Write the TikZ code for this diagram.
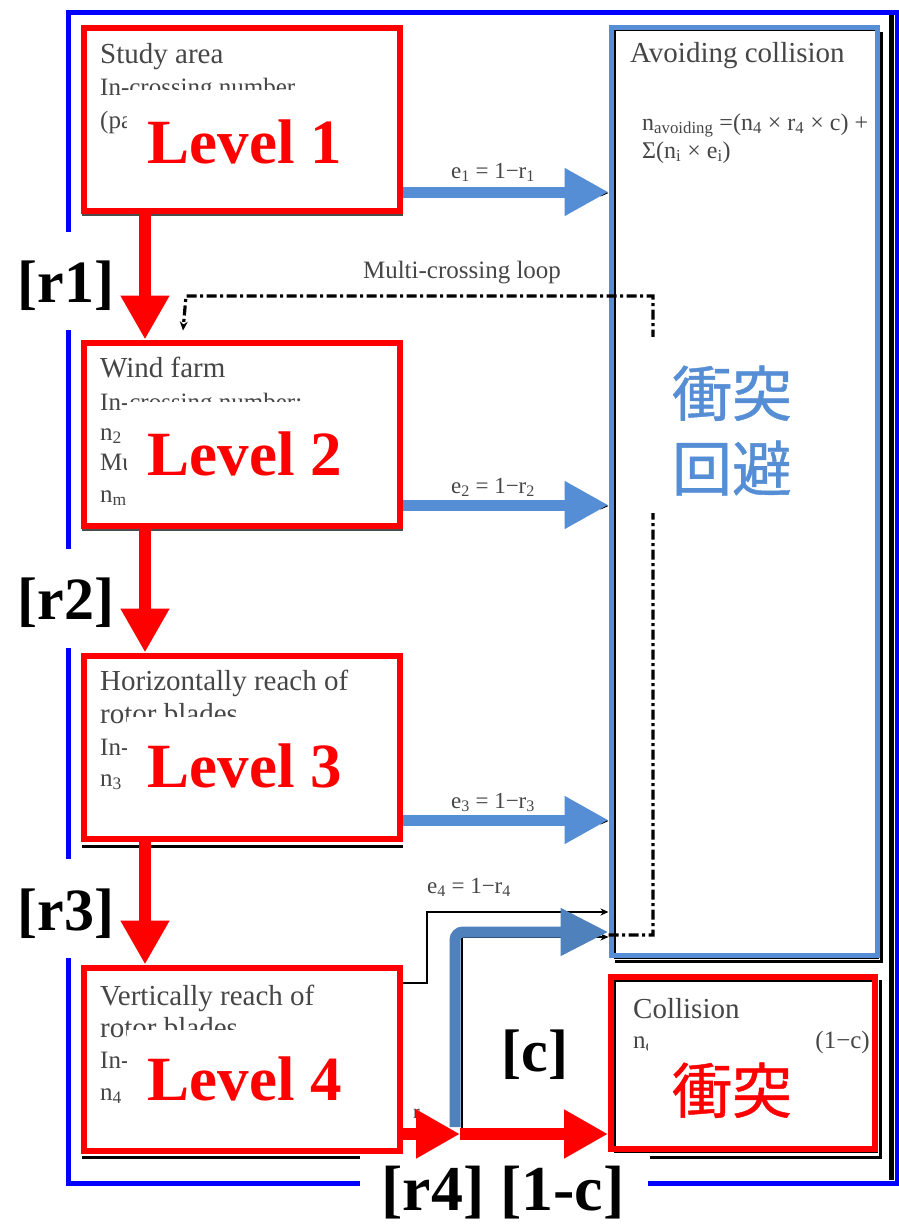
\documentclass[tikz,border=0pt]{standalone}
\usepackage{fontspec}
\setmainfont{Liberation Serif}
\newfontfamily\cjk{Noto Sans CJK JP}[FakeBold=0.7]
\usetikzlibrary{arrows.meta}
\definecolor{ared}{RGB}{255,0,0}
\definecolor{lblue}{RGB}{85,142,213}
\definecolor{dblue}{RGB}{79,129,189}
\definecolor{fblue}{RGB}{0,0,255}
\definecolor{gtext}{RGB}{70,70,70}
\newcommand\fsz[1]{\fontsize{#1}{#1}\selectfont}
\begin{document}
\begin{tikzpicture}[x=1pt,y=-1pt,
 levelbox/.style={draw=ared, line width=6pt, minimum width=316pt, minimum height=183pt, inner sep=0pt},
 leveltxt/.style={text=ared, font=\bfseries\fsz{63}, anchor=base, inner sep=0pt},
 rlab/.style={font=\bfseries\fsz{60}, inner sep=0pt},
 head/.style={font=\fsz{29}, text=gtext, anchor=base west, inner sep=0pt},
 det/.style={font=\fsz{25}, text=gtext, anchor=base west, inner sep=0pt},
 elab/.style={font=\fsz{23}, text=gtext, anchor=base, inner sep=0pt},
 cjkbig/.style={font=\cjk\fsz{60}, anchor=base, inner sep=0pt},
 redarrow/.style={draw=ared, line width=12pt, -{Triangle[length=44pt,width=46pt]}},
 bluearrow/.style={draw=lblue, line width=11pt, -{Triangle[length=44pt,width=45pt]}},
 thinarrow/.style={draw=black, line width=2pt, -{Stealth[length=8pt,width=7pt]}},
 loopline/.style={draw=black, line width=3.2pt, dash pattern=on 10pt off 3.5pt on 3pt off 3.5pt},
 ]
\useasboundingbox (0,0) rectangle (899,1232);
\fill[white] (0,0) rectangle (899,1232);

% underlying original figure: frame line and shadows
\draw[black, line width=5pt] (891,14) -- (891,1180);
\draw[black, line width=1.2pt] (615,30) rectangle (878,958);
\draw[black, line width=3pt] (615,961) -- (881,961) -- (881,32);
\draw[black, line width=1.2pt] (615,981) rectangle (877,1152);
\draw[black, line width=3pt] (650,1157) -- (880,1157) -- (880,980);
\draw[black!70, line width=1.5pt] (82,215) -- (403,215);
\draw[black!70, line width=1.5pt] (82,530) -- (403,530);
\draw[black, line width=3pt] (82,846) -- (403,846);
\draw[black, line width=3pt] (82,1157) -- (360,1157);

% boxes
\node[levelbox] (box1) at (242,119) {};
\node[levelbox] (box2) at (242,434) {};
\node[levelbox] (box3) at (242,747) {};
\node[levelbox] (box4) at (242,1059) {};
\node[draw=lblue, line width=5pt, minimum width=266pt, minimum height=928pt, inner sep=0pt] (avoid) at (744,491) {};
\node[draw=ared, line width=6pt, minimum width=264pt, minimum height=172pt, inner sep=0pt] (coll) at (743,1063) {};

% original texts
\node[head] (t1a) at (100,63) {Study area};
\node[det] (t1b) at (100,95) {In-crossing number};
\node[det] (t1c) at (100,128) {(pa};
\node[head] (t2a) at (100,377) {Wind farm};
\node[det] (t2b) at (100,410) {In-crossing number:};
\node[det] (t2c) at (100,440) {n\textsubscript{2}};
\node[det] (t2d) at (100,470) {Mu};
\node[det] (t2e) at (100,502) {n\textsubscript{m}};
\node[head] (t3a) at (100,690) {Horizontally reach of};
\node[head] (t3b) at (100,723) {rotor blades};
\node[det] (t3c) at (100,755) {In-};
\node[det] (t3d) at (100,786) {n\textsubscript{3}};
\node[head] (t4a) at (100,1005) {Vertically reach of};
\node[head] (t4b) at (100,1037) {rotor blades};
\node[det] (t4c) at (100,1068) {In-};
\node[det] (t4d) at (100,1100) {n\textsubscript{4}};
\node[head] (ta) at (630,62) {Avoiding collision};
\node[det, font=\fsz{24}] (tf1) at (642,130) {n\textsubscript{avoiding} =(n\textsubscript{4} × r\textsubscript{4} × c) +};
\node[det, font=\fsz{24}] (tf2) at (642,158) {Σ(n\textsubscript{i} × e\textsubscript{i})};
\node[head] (tc) at (633,1018) {Collision};
\node[det] (tcn) at (633,1048) {n\textsubscript{c}};
\node[det, anchor=base east] (tcf) at (870,1048) {(1−c)};
\node[det, font=\fsz{20}] (tr4) at (413,1118) {r};

% connector labels
\node[elab] (le1) at (493,178) {e\textsubscript{1} = 1−r\textsubscript{1}};
\node[elab] (le2) at (493,493) {e\textsubscript{2} = 1−r\textsubscript{2}};
\node[elab] (le3) at (493,808) {e\textsubscript{3} = 1−r\textsubscript{3}};
\node[elab] (le4) at (469,893) {e\textsubscript{4} = 1−r\textsubscript{4}};
\node[det, anchor=base] (ml) at (462,278) {Multi-crossing loop};

% original thin connectors
\draw[thinarrow] (box1.east |- 0,193) -- (avoid.west |- 0,193);
\draw[thinarrow] (box2.east |- 0,506) -- (avoid.west |- 0,506);
\draw[thinarrow] (box3.east |- 0,821) -- (avoid.west |- 0,821);
\draw[thinarrow, line width=2.5pt] (box4.east |- 0,983) -| (427,912) -- (avoid.west |- 0,912);
\coordinate (cbot) at (462,1135);
\draw[thinarrow, line width=2.5pt] (cbot) -- (462,937) -- (avoid.west |- 0,937);
\draw[loopline, -{Stealth[length=9pt,width=8pt]}] (avoid.west |- 0,935) -- (653,935) -- (653,296) -- (186,296) -- ([xshift=102pt,yshift=9pt]box2.north west);

% white label covers and labels
\fill[white] (127,90) rectangle (394,204);
\fill[white] (127,402) rectangle (394,519);
\fill[white] (127,717) rectangle (394,833);
\fill[white] (127,1030) rectangle (394,1144);
\node[leveltxt] (l1) at (245,163) {Level 1};
\node[leveltxt] (l2) at (245,475) {Level 2};
\node[leveltxt] (l3) at (245,787) {Level 3};
\node[leveltxt] (l4) at (245,1100) {Level 4};
\fill[white] (636,337) rectangle (830,513);
\node[cjkbig, text=lblue] (av1) at (732,416) {衝突};
\node[cjkbig, text=lblue] (av2) at (732,491) {回避};
\fill[white] (648,1036) rectangle (812,1140);
\node[cjkbig, text=ared] (col1) at (732,1113) {衝突};

% overlay arrows
\draw[bluearrow] (box1.east |- 0,192) -- (avoid.west |- 0,192);
\draw[bluearrow] (box2.east |- 0,505) -- (avoid.west |- 0,505);
\draw[bluearrow] (box3.east |- 0,820) -- (avoid.west |- 0,820);
\draw[draw=dblue, line width=11pt, rounded corners=8pt, -{Triangle[length=48pt,width=45pt]}] (455,1127) -- (455,932) -- (avoid.west |- 0,932);
\draw[redarrow] ([xshift=64pt]box1.south west) -- ([xshift=64pt]box2.north west);
\draw[redarrow] ([xshift=64pt]box2.south west) -- ([xshift=64pt]box3.north west);
\draw[redarrow] ([xshift=64pt]box3.south west) -- ([xshift=64pt]box4.north west);
\coordinate (rj) at (460,1134);
\draw[redarrow] (box4.east |- rj) -- (rj);
\draw[redarrow] (rj) -- (coll.west |- rj);

% outer frame
\draw[fblue, line width=5pt] (68,232) -- (68,12) -- (897,12) -- (897,1183) -- (648,1183);
\draw[fblue, line width=5pt] (68,330) -- (68,549);
\draw[fblue, line width=5pt] (68,648) -- (68,859);
\draw[fblue, line width=5pt] (68,958) -- (68,1183) -- (360,1183);

% annotation labels
\node[rlab] (r1) at (66,286) {[r1]};
\node[rlab] (r2) at (66,603) {[r2]};
\node[rlab] (r3) at (66,914) {[r3]};
\node[rlab] (rc) at (535,1055) {[c]};
\node[rlab, font=\bfseries\fsz{64}] (r4) at (503,1193) {[r4] [1-c]};
\end{tikzpicture}
\end{document}
